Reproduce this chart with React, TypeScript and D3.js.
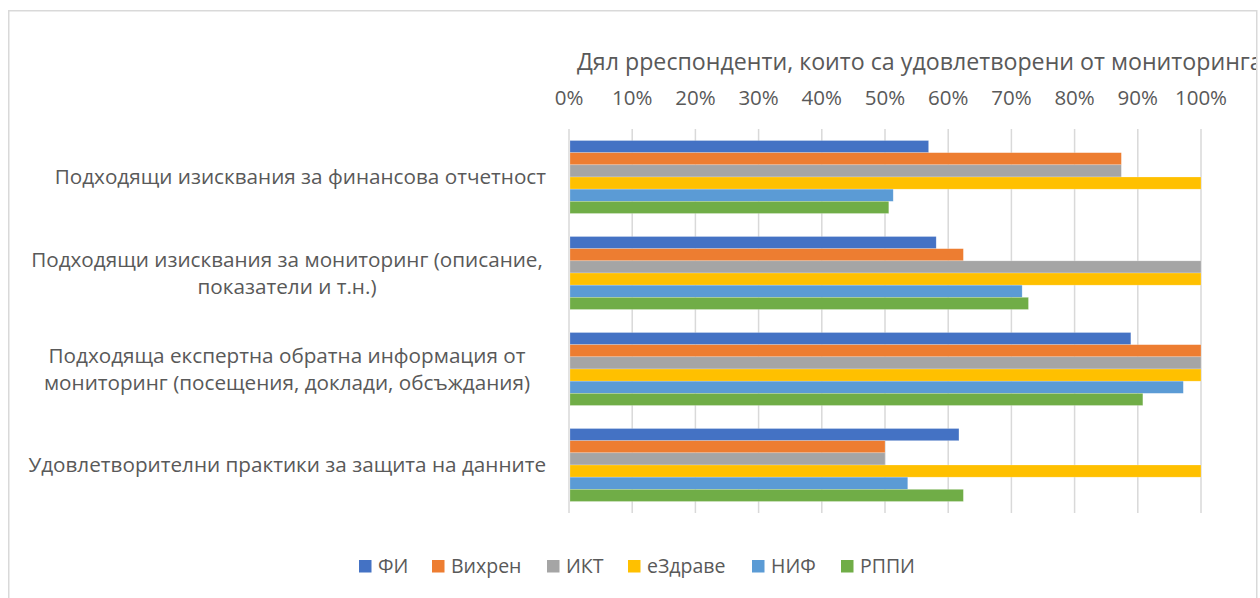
import React from "react";
import * as d3 from "d3";

const categories: string[][] = [
  ["Подходящи изисквания за финансова отчетност"],
  ["Подходящи изисквания за мониторинг (описание,", "показатели и т.н.)"],
  ["Подходяща експертна обратна информация от", "мониторинг (посещения, доклади, обсъждания)"],
  ["Удовлетворителни практики за защита на данните"],
];
const seriesNames = ["ФИ", "Вихрен", "ИКТ", "еЗдраве", "НИФ", "РППИ"];
const seriesColors = ["#4472C4", "#ED7D31", "#A5A5A5", "#FFC000", "#5B9BD5", "#70AD47"];
const valuesFI = [0.569, 0.581, 0.889, 0.617];
const valuesVihren = [0.874, 0.624, 1.0, 0.5];
const valuesIKT = [0.874, 1.0, 1.0, 0.5];
const valuesEzdrave = [1.0, 1.0, 1.0, 1.0];
const valuesNIF = [0.513, 0.717, 0.972, 0.536];
const valuesRPPI = [0.506, 0.727, 0.908, 0.624];
const seriesValues = [valuesFI, valuesVihren, valuesIKT, valuesEzdrave, valuesNIF, valuesRPPI];
const tickValues = [0, 0.1, 0.2, 0.3, 0.4, 0.5, 0.6, 0.7, 0.8, 0.9, 1.0];
const title = "Дял рреспонденти, които са удовлетворени от мониторинга";

const FONT = "'Open Sans', 'Noto Sans', sans-serif";
const TEXT = "#595959";

export default function App() {
  const W = 1260, H = 598;
  const plotLeft = 569, plotRight = 1201, plotTop = 129, plotBottom = 513;
  const x = d3.scaleLinear().domain([0, 1]).range([plotLeft, plotRight]);
  const y = d3
    .scaleBand<number>()
    .domain(d3.range(categories.length))
    .range([plotTop, plotBottom])
    .paddingInner(0.24)
    .paddingOuter(0.12);
  const inner = d3.scaleBand<number>().domain(d3.range(seriesNames.length)).range([0, y.bandwidth()]);
  const lineH = 27;
  const labelRight = 546;
  const labelCenter = 287;
  const labelFontSize = 20.7;

  const legendX = [359, 432, 547, 628, 752, 841];

  return (
    <svg width={W} height={H} style={{ position: "absolute", left: 0, top: 0, display: "block" }} fontFamily={FONT}>
      <defs>
        <clipPath id="chartClip">
          <rect x={9} y={11} width={1247} height={H} />
        </clipPath>
      </defs>
      <rect x={0} y={0} width={W} height={H} fill="#fff" />
      <g clipPath="url(#chartClip)">
        <text x={577} y={70} fontSize={23.2} fill={TEXT}>{title}</text>
        {tickValues.map((t) => (
          <g key={t}>
            <line x1={x(t)} x2={x(t)} y1={plotTop} y2={plotBottom} stroke="#d9d9d9" strokeWidth={1.5} />
            <text x={x(t)} y={105} fontSize={20.5} fill={TEXT} textAnchor="middle">
              {d3.format(".0%")(t)}
            </text>
          </g>
        ))}
        {categories.map((cat, ci) => (
          <g key={ci}>
            {seriesValues.map((vals, si) => (
              <rect
                key={si}
                x={x(0) + 1}
                y={(y(ci) as number) + (inner(si) as number)}
                width={x(vals[ci]) - x(0) - 1}
                height={inner.bandwidth()}
                fill={seriesColors[si]}
                stroke="#ffffff"
                strokeOpacity={0.35}
                strokeWidth={0.6}
              />
            ))}
          </g>
        ))}
        {categories.map((lines, ci) => {
          const cy = (y(ci) as number) + y.bandwidth() / 2;
          const multi = lines.length > 1;
          const startY = cy - ((lines.length - 1) * lineH) / 2;
          return (
            <text
              key={ci}
              fontSize={labelFontSize}
              fill={TEXT}
              textAnchor={multi ? "middle" : "end"}
            >
              {lines.map((l, li) => (
                <tspan key={li} x={multi ? labelCenter : labelRight} y={startY + li * lineH} dy="0.35em">
                  {l}
                </tspan>
              ))}
            </text>
          );
        })}
        {seriesNames.map((s, si) => (
          <g key={s}>
            <rect x={legendX[si]} y={560} width={12.5} height={12.5} fill={seriesColors[si]} />
            <text x={legendX[si] + 19} y={566.5} dy="0.35em" fontSize={19.5} fill={TEXT}>
              {s}
            </text>
          </g>
        ))}
      </g>
      <path d={`M8.75,${H} V10.75 H1256.75 V${H}`} fill="none" stroke="#d9d9d9" strokeWidth={1.5} />
    </svg>
  );
}
